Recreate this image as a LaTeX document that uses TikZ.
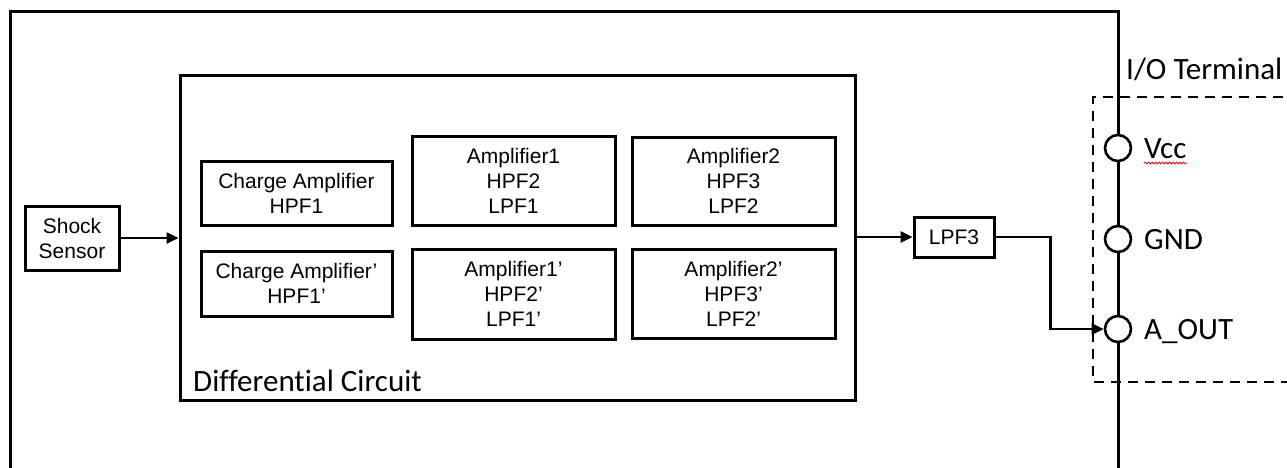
\documentclass[tikz,border=0pt]{standalone}
\usepackage{fontspec}
\newfontfamily\arialfont{Liberation Sans}
\newfontfamily\califont[Ligatures=NoCommon]{Carlito}
\usetikzlibrary{arrows.meta,calc,decorations.pathmorphing}

\tikzset{
  blk/.style={draw, line width=3pt, inner sep=0pt, align=center,
    font=\arialfont\fontsize{21}{25}\selectfont},
  sig/.style={line width=2.5pt, -{Triangle[length=12pt,width=11pt]}},
  term/.style={circle, draw, line width=2.6pt, fill=white,
    minimum size=26pt, inner sep=0pt},
  lbl/.style={inner sep=0pt, anchor=base west,
    font=\califont\fontsize{31}{36}\selectfont}
}

\begin{document}
\begin{tikzpicture}[x=1pt,y=-1pt]
  \useasboundingbox (0,0) rectangle (1287,467);

  % housing, its right edge is the terminal line
  \draw[line width=3pt] (10,470) -- (10,11) -- (1118,11) -- (1118,470);

  \node[blk, minimum width=94pt, minimum height=64pt] (sensor) at (72,238) {Shock\\Sensor};

  \node[draw, line width=3pt, inner sep=0pt, minimum width=675pt,
    minimum height=325pt] (diff) at (517.5,237.5) {};
  \node[lbl] (difflbl) at (193,391.5) {Differential Circuit};

  \node[blk, minimum width=191pt, minimum height=64pt] (ca) at (296.5,193.5) {Charge Amplifier\\HPF1};
  \node[blk, minimum width=191pt, minimum height=65pt] (cap) at (296.5,283.5) {Charge Amplifier’\\HPF1’};
  \node[blk, minimum width=203pt, minimum height=89pt] (amp1) at (513.5,180.5) {Amplifier1\\HPF2\\LPF1};
  \node[blk, minimum width=203pt, minimum height=90pt] (amp1p) at (513.5,294) {Amplifier1’\\HPF2’\\LPF1’};
  \node[blk, minimum width=203pt, minimum height=88pt] (amp2) at (733.5,181) {Amplifier2\\HPF3\\LPF2};
  \node[blk, minimum width=203pt, minimum height=89pt] (amp2p) at (733.5,293.5) {Amplifier2’\\HPF3’\\LPF2’};

  \node[blk, minimum width=80pt, minimum height=40pt] (lpf) at (954,237) {LPF3};

  % I/O terminal
  \draw[line width=2.6pt, dash pattern=on 10pt off 7pt] (1300,97) -| (1093,382) -- (1300,382);
  \node[lbl] (iolbl) at (1126,79) {I/O Terminal};

  \node[term] (vcc) at (1118,148) {};
  \node[term] (gnd) at (1118,239) {};
  \node[term] (aout) at (1118,329) {};
  \node[lbl] (vcclbl) at (1144,158) {Vcc};
  \node[lbl] (gndlbl) at (1144,249) {GND};
  \node[lbl] (aoutlbl) at (1144,339) {A\_OUT};
  \draw[red, line width=0.8pt, decorate, decoration={snake, amplitude=1pt, segment length=3.5pt}]
    ($(vcclbl.base west)+(0,5)$) -- ($(vcclbl.base east)+(0,5)$);

  % signal path
  \draw[sig] (sensor.east) -- (sensor.east -| diff.west);
  \draw[sig] (lpf.west -| diff.east) -- (lpf.west);
  \draw[sig] (lpf.east) -- ++(55,0) |- (aout.west);
\end{tikzpicture}
\end{document}
